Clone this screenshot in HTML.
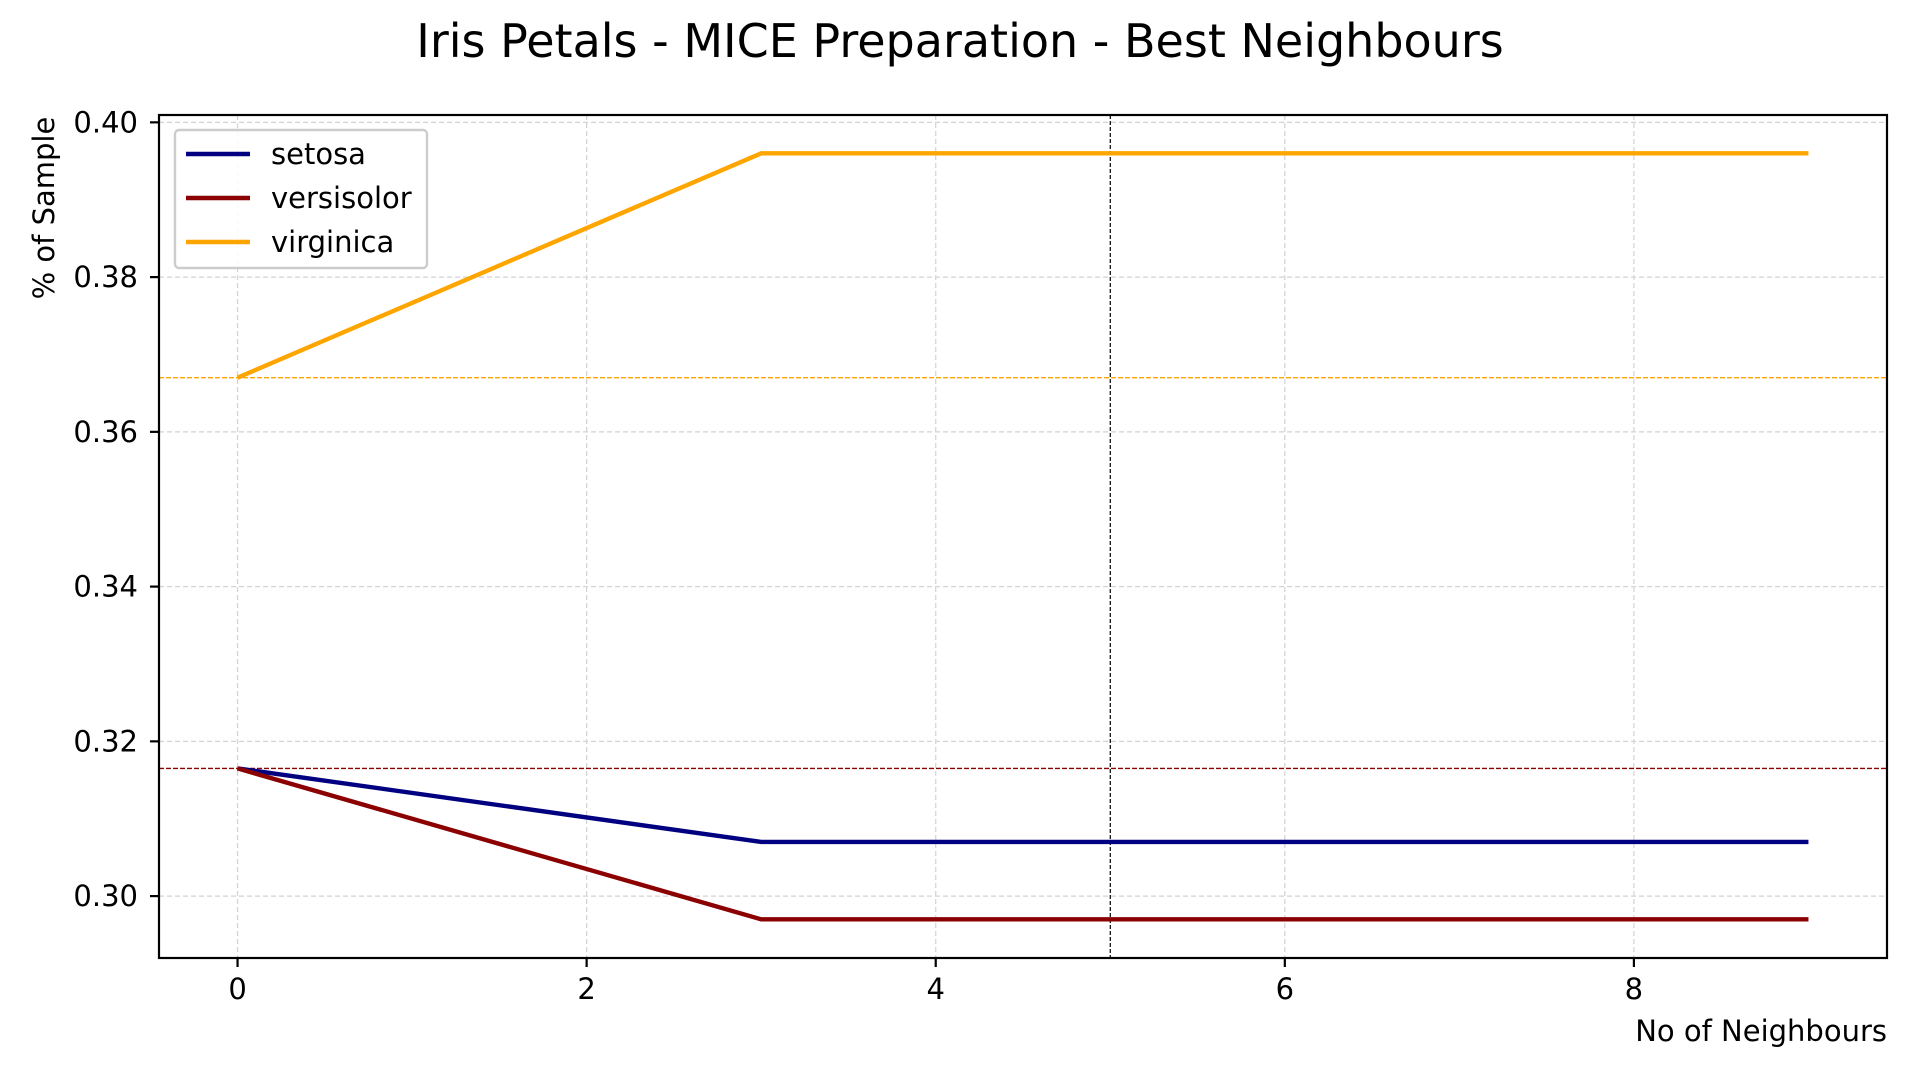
<!DOCTYPE html>
<html><head><meta charset="utf-8"><style>
body{margin:0;background:#fff;}
svg{display:block;font-family:"DejaVu Sans","Liberation Sans",sans-serif;}
</style></head><body>
<svg id="chart" width="1920" height="1080"></svg>
<script>
const xValues=[0,3,4,5,6,7,8,9];
const setosa=[0.3165,0.307,0.307,0.307,0.307,0.307,0.307,0.307];
const versicolor=[0.3165,0.297,0.297,0.297,0.297,0.297,0.297,0.297];
const virginica=[0.367,0.396,0.396,0.396,0.396,0.396,0.396,0.396];
const seriesNames=["setosa","versisolor","virginica"];
const xTicks=[0,2,4,6,8];
const yTicks=[0.30,0.32,0.34,0.36,0.38,0.40];
const refLines=[0.367,0.3165];
const vLine=5;

const NS="http://www.w3.org/2000/svg";
const svg=document.getElementById('chart');
const L=159,R=1887,T=115,B=958;
const xMin=-0.45,xMax=9.45,yMin=0.292,yMax=0.40095;
const sx=v=>L+(v-xMin)/(xMax-xMin)*(R-L);
const sy=v=>B-(v-yMin)/(yMax-yMin)*(B-T);
function mk(tag,attrs,parent){const e=document.createElementNS(NS,tag);for(const k in attrs)e.setAttribute(k,attrs[k]);(parent||svg).appendChild(e);return e;}

const title=mk('text',{x:960,y:57,'text-anchor':'middle','font-size':46,fill:'#000'});
title.textContent='Iris Petals - MICE Preparation - Best Neighbours';



xTicks.forEach(t=>{const g=mk('line',{x1:sx(t),x2:sx(t),y1:T,y2:B,stroke:'#d3d3d3','stroke-width':1.2,'stroke-dasharray':'5,3'});

});
yTicks.forEach(t=>{const g=mk('line',{x1:L,x2:R,y1:sy(t),y2:sy(t),stroke:'#d3d3d3','stroke-width':1.2,'stroke-dasharray':'5,3'});

});

const refColors=['#ffa500','#8b0000'];
refLines.forEach((v,i)=>{const l=mk('line',{x1:L,x2:R,y1:sy(v),y2:sy(v),stroke:refColors[i],'stroke-width':1.4,'stroke-dasharray':'5,2'});

});
const vl=mk('line',{x1:sx(vLine),x2:sx(vLine),y1:T,y2:B,stroke:'#000','stroke-width':1.2,'stroke-dasharray':'4,2'});



const data=[setosa,versicolor,virginica];
const colors=['#000080','#8b0000','#ffa500'];
data.forEach((s,i)=>{const p=xValues.map((x,j)=>sx(x)+','+sy(s[j])).join(' ');
const pl=mk('polyline',{points:p,fill:'none',stroke:colors[i],'stroke-width':4.4});

});

const fr=mk('rect',{x:L,y:T,width:R-L,height:B-T,fill:'none',stroke:'#000','stroke-width':2.2});



xTicks.forEach(t=>{mk('line',{x1:sx(t),x2:sx(t),y1:B,y2:B+9,stroke:'#000','stroke-width':2.2});
const tx=mk('text',{x:sx(t),y:B+41,'text-anchor':'middle','font-size':29,fill:'#000'});tx.textContent=t;

});
yTicks.forEach(t=>{mk('line',{x1:L-9,x2:L,y1:sy(t),y2:sy(t),stroke:'#000','stroke-width':2.2});
const tx=mk('text',{x:L-21,y:sy(t)+10,'text-anchor':'end','font-size':29,fill:'#000'});tx.textContent=t.toFixed(2);

});

const xl=mk('text',{x:R,y:1041,'text-anchor':'end','font-size':29,fill:'#000'});xl.textContent='No of Neighbours';


const yl=mk('text',{x:0,y:0,'text-anchor':'middle','font-size':29,fill:'#000',transform:'translate(54,208) rotate(-90)'});yl.textContent='% of Sample';



const lg=mk('g',{});


mk('rect',{x:175,y:130,width:252,height:138,rx:4,fill:'#fff','fill-opacity':0.85,stroke:'#ccc','stroke-width':2.4},lg);
const ly=[154,198,242];
seriesNames.forEach((n,i)=>{const g=mk('g',{},lg);


mk('line',{x1:186,x2:250,y1:ly[i],y2:ly[i],stroke:colors[i],'stroke-width':4.4},g);
const t=mk('text',{x:271,y:ly[i]+10,'font-size':29,fill:'#000'},g);t.textContent=n;});
</script>
</body></html>
